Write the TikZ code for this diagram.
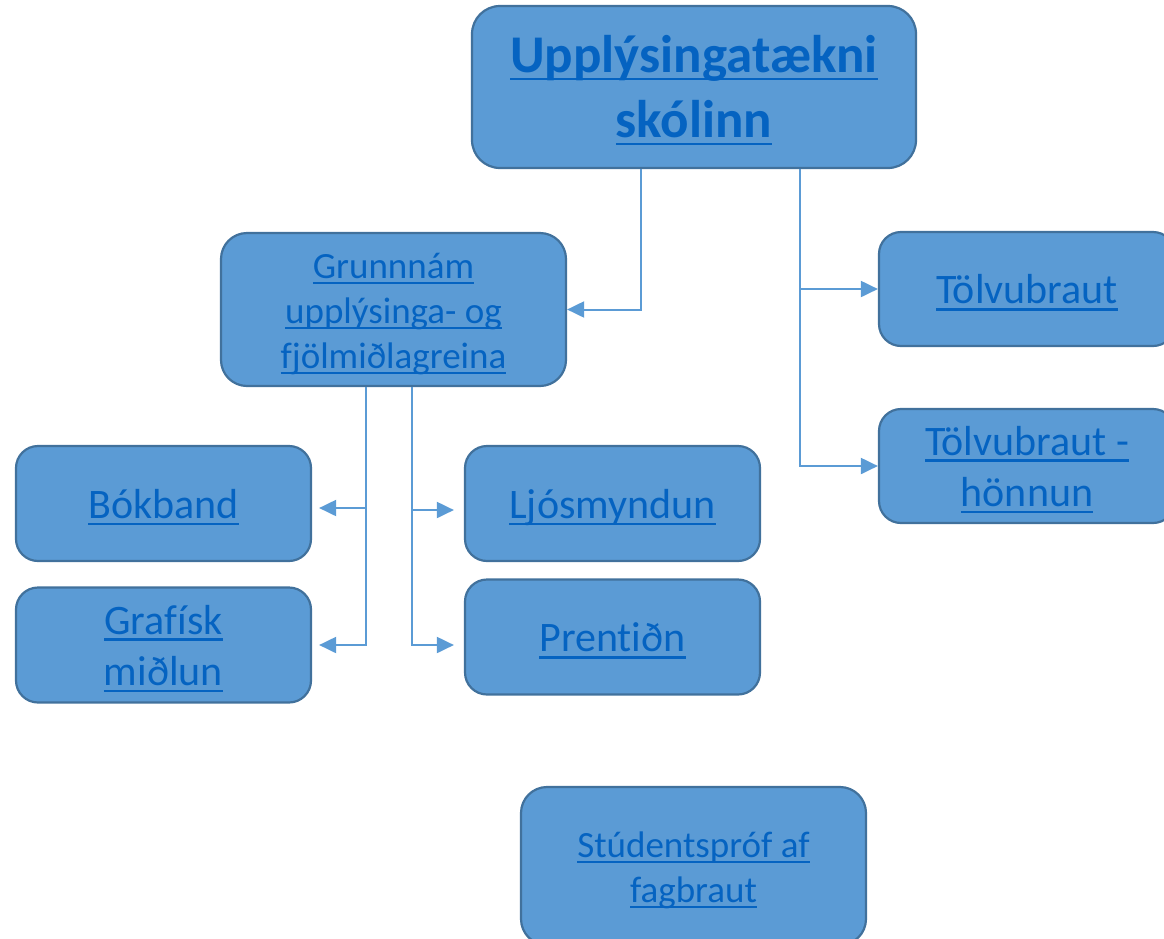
\documentclass[tikz,border=0pt]{standalone}
\usepackage{fontspec}
\setmainfont{Carlito}[Ligatures=NoCommon]
\usetikzlibrary{arrows.meta}
\definecolor{boxfill}{HTML}{5B9BD5}
\definecolor{boxline}{HTML}{41719C}
\definecolor{linkblue}{HTML}{0563C1}
\newcommand\lnk[1]{\setbox0\hbox{#1}\rlap{\vrule width\wd0 height -0.105em depth 0.16em}\box0}
\newcommand\lines[1]{\raisebox{-4.5pt}[\height][\depth]{\begin{tabular}{@{}c@{}}#1\end{tabular}}}
\tikzset{
  box/.style={draw=boxline, line width=2.2pt, fill=boxfill, rounded corners=22pt,
    align=center, inner sep=0pt, text=linkblue, minimum width=295pt, minimum height=115pt},
  bigtext/.style={font=\fontsize{42}{51.5}\selectfont},
  smalltext/.style={font=\fontsize{37}{45}\selectfont},
  conn/.style={draw=boxfill, line width=2pt, -{Triangle[length=17pt,width=16pt]}},
}
\begin{document}
\begin{tikzpicture}[x=1pt,y=-1pt]
\useasboundingbox (0,0) rectangle (1164,938);
\clip (0,0) rectangle (1164,938);
\node[box, minimum width=444pt, minimum height=162pt, rounded corners=28pt,
  font=\fontsize{53}{65}\selectfont\bfseries] (top) at (694,87)
  {\lines{\lnk{Upplýsingatækni}\\\lnk{skólinn}}};
\node[box, smalltext, minimum width=345pt, minimum height=153pt, rounded corners=26pt] (grunn) at (393.5,309.5)
  {\lines{\lnk{Grunnnám}\\\lnk{upplýsinga- og}\\\lnk{fjölmiðlagreina}}};
\node[box, bigtext, minimum width=296pt, minimum height=114pt] (tolv) at (1027,289) {\lines{\lnk{Tölvubraut}}};
\node[box, bigtext, minimum width=296pt, minimum height=114pt] (tolvh) at (1027,466) {\lines{\lnk{Tölvubraut -}\\\lnk{hönnun}}};
\node[box, bigtext] (bok) at (163.5,503.5) {\lines{\lnk{Bókband}}};
\node[box, bigtext] (graf) at (163.5,645) {\lines{\lnk{Grafísk}\\\lnk{miðlun}}};
\node[box, bigtext] (ljos) at (612.5,503.5) {\lines{\lnk{Ljósmyndun}}};
\node[box, bigtext] (prent) at (612.5,637) {\lines{\lnk{Prentiðn}}};
\node[box, smalltext, minimum width=345pt, minimum height=158pt, rounded corners=26pt] (stud) at (693.5,866)
  {\lines{\lnk{Stúdentspróf af}\\\lnk{fagbraut}}};
% connectors
\draw[conn] ([xshift=-53pt]top.south) |- (grunn.east);
\draw[conn] ([xshift=106pt]top.south) |- (tolv.west);
\draw[conn] ([xshift=106pt]top.south) |- (tolvh.west);
\draw[conn] ([xshift=-27.5pt]grunn.south) |- ([xshift=7pt,yshift=-4.5pt]bok.east);
\draw[conn] ([xshift=-27.5pt]grunn.south) |- ([xshift=7pt]graf.east);
\draw[conn] ([xshift=18.5pt]grunn.south) |- ([xshift=-10pt,yshift=-6.5pt]ljos.west);
\draw[conn] ([xshift=18.5pt]grunn.south) |- ([xshift=-10pt,yshift=-8pt]prent.west);
\end{tikzpicture}
\end{document}
